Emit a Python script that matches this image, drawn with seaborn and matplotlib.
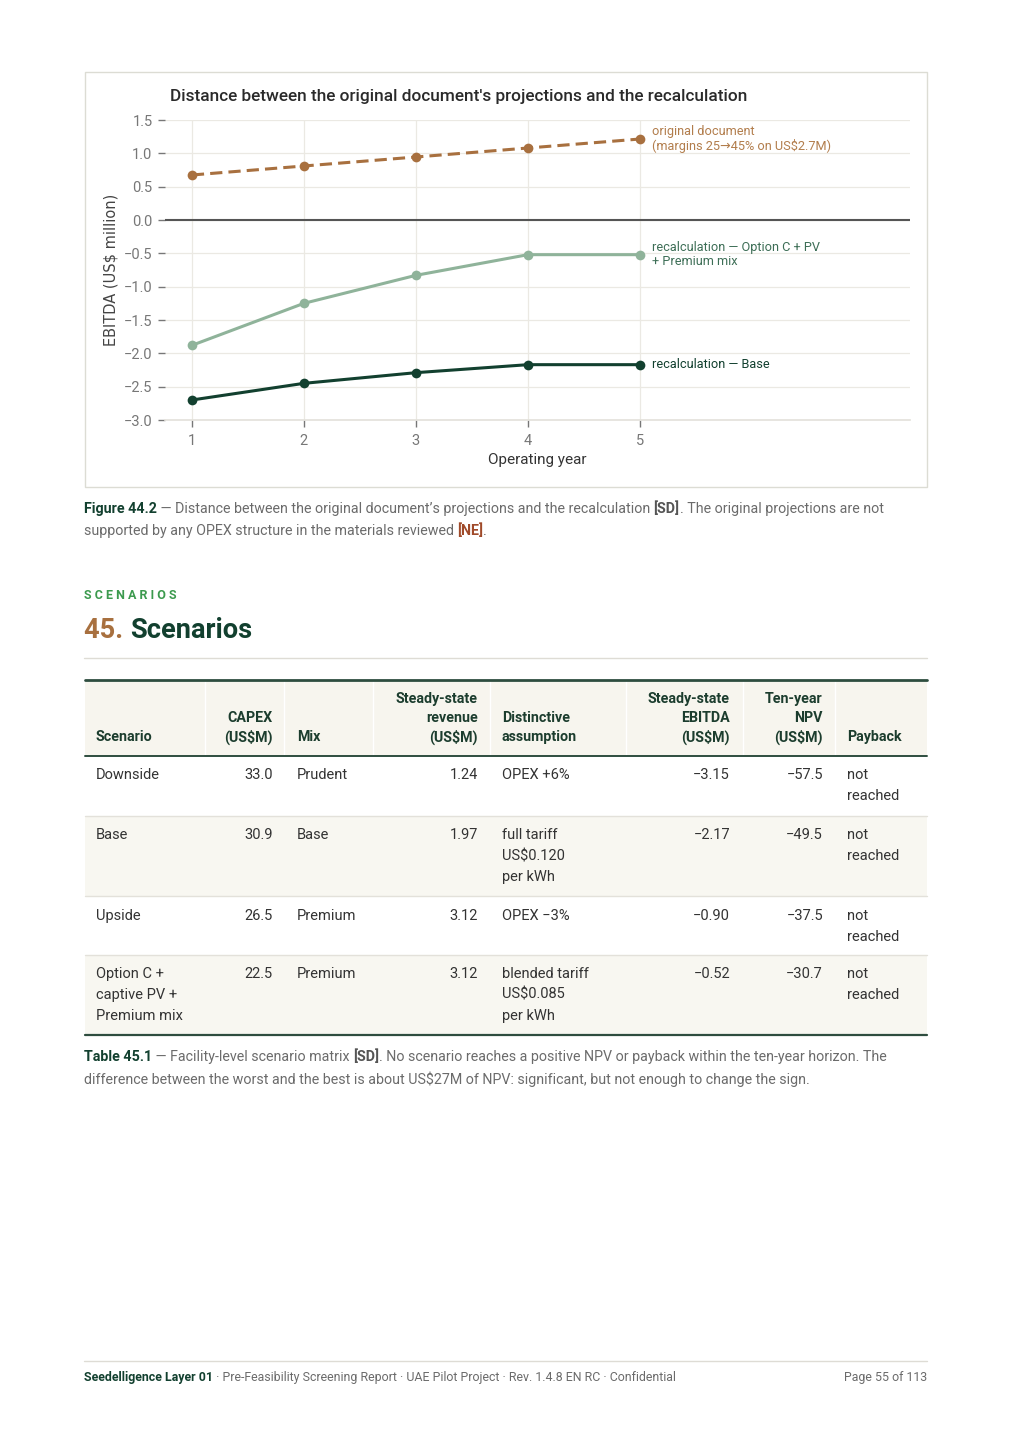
import numpy as np
import pandas as pd
import seaborn as sns
import matplotlib
matplotlib.use("Agg")
import matplotlib.pyplot as plt
from matplotlib.patches import Rectangle
from matplotlib.lines import Line2D

# ---------------- data ----------------
years = [1, 2, 3, 4, 5]
original = [0.675, 0.81, 0.945, 1.08, 1.215]
option_c = [-1.88, -1.25, -0.83, -0.52, -0.52]
base = [-2.70, -2.45, -2.29, -2.17, -2.17]
y_ticks = [1.5, 1.0, 0.5, 0.0, -0.5, -1.0, -1.5, -2.0, -2.5, -3.0]
series_labels = ["original document\n(margins 25\u219245% on US$2.7M)",
                 "recalculation \u2014 Option C + PV\n+ Premium mix",
                 "recalculation \u2014 Base"]

headers = [["Scenario"], ["CAPEX", "(US$M)"], ["Mix"],
           ["Steady-state", "revenue", "(US$M)"], ["Distinctive", "assumption"],
           ["Steady-state", "EBITDA", "(US$M)"], ["Ten-year", "NPV", "(US$M)"], ["Payback"]]
scenarios = [["Downside"], ["Base"], ["Upside"], ["Option C +", "captive PV +", "Premium mix"]]
capex = [33.0, 30.9, 26.5, 22.5]
mix = ["Prudent", "Base", "Premium", "Premium"]
revenue = [1.24, 1.97, 3.12, 3.12]
assumption = [["OPEX +6%"], ["full tariff", "US$0.120", "per kWh"], ["OPEX \u22123%"],
              ["blended tariff", "US$0.085", "per kWh"]]
ebitda = [-3.15, -2.17, -0.90, -0.52]
npv = [-57.5, -49.5, -37.5, -30.7]
payback = [["not", "reached"]] * 4

# ---------------- style ----------------
W, H = 1012, 1432
sns.set_theme(style="white")
plt.rcParams["font.family"] = ["Roboto", "DejaVu Sans"]

DARK = "#12402f"
BROWN = "#a8703f"
LIGHTG = "#8fb39a"
GRAY = "#6b6b6b"
TXT = "#333333"

fig = plt.figure(figsize=(W / 100, H / 100), dpi=100)
fig.patch.set_facecolor("white")
R = fig.canvas.get_renderer()


def fx(x):
    return x / W


def fy(y):
    return 1 - y / H


def T(x, y, s, **kw):
    kw.setdefault("va", "center")
    return fig.text(fx(x), fy(y), s, **kw)


def width_of(s, size, weight):
    a = fig.text(0, 0, "x" + s + "x", fontsize=size, fontweight=weight)
    b = fig.text(0, 0, "xx", fontsize=size, fontweight=weight)
    w = a.get_window_extent(renderer=R).width - b.get_window_extent(renderer=R).width
    a.remove()
    b.remove()
    return w


def runs(x, y, parts, size):
    cx = x
    for s, color, weight in parts:
        T(cx, y, s, color=color, fontweight=weight, fontsize=size, ha="left")
        cx += width_of(s, size, weight)


def hline(x0, x1, y, color, lw):
    fig.add_artist(Line2D([fx(x0), fx(x1)], [fy(y), fy(y)], color=color, lw=lw,
                          transform=fig.transFigure))


def rect(x0, y0, x1, y1, fc, ec="none", lw=0):
    fig.add_artist(Rectangle((fx(x0), fy(y1)), fx(x1) - fx(x0), fy(y0) - fy(y1),
                             facecolor=fc, edgecolor=ec, lw=lw, transform=fig.transFigure))


# ---------------- chart ----------------
rect(85, 72, 927, 487, "none", "#dcdcd4", 1.0)

ax = fig.add_axes([fx(165), fy(420), fx(910) - fx(165), fy(120) - fy(420)])
ax.set_facecolor("white")
df = pd.DataFrame({"year": years * 3,
                   "value": original + option_c + base,
                   "series": ["orig"] * 5 + ["optc"] * 5 + ["base"] * 5})
palette = {"orig": BROWN, "optc": LIGHTG, "base": DARK}
for key, dash in [("orig", (4, 2)), ("optc", ""), ("base", "")]:
    sub = df[df.series == key]
    sns.lineplot(data=sub, x="year", y="value", ax=ax, color=palette[key], lw=2.2,
                 marker="o", markersize=7, markeredgewidth=0, legend=False,
                 dashes=False, zorder=4, clip_on=False)
    if dash:
        ax.lines[-1].set_dashes(dash)

ax.axhline(0, color="#555555", lw=1.5, zorder=3)
ax.set_xlim(0.76, 7.41)
ax.set_ylim(-3.0, 1.5)
ax.set_xticks(years)
ax.set_yticks(y_ticks)
ax.set_yticklabels([f"{v:.1f}".replace("-", "\u2212") for v in y_ticks])
ax.grid(True, color="#ebe9e3", lw=0.9)
ax.set_axisbelow(True)
for s in ["top", "right", "left"]:
    ax.spines[s].set_visible(False)
ax.spines["bottom"].set_color("#e4e2dc")
ax.tick_params(axis="both", colors="#777777", labelsize=10.5, length=5, width=1,
               direction="out", left=True, bottom=True)
ax.tick_params(axis="y", pad=4)
ax.tick_params(axis="x", pad=5)
ax.set_xlabel("Operating year", fontsize=11, color="#333333", labelpad=4)
ax.set_ylabel("EBITDA (US$ million)", fontsize=10.5, color="#444444", labelpad=4,
              family="DejaVu Sans")

for vals, lab, col in zip([original, option_c, base], series_labels, ["#b27d4c", "#3d6e56", DARK]):
    ax.annotate(lab, xy=(years[-1], vals[-1]), xytext=(8.6, 0), textcoords="offset points",
                va="center", ha="left", fontsize=9.2, color=col, linespacing=1.1)

T(170, 97, "Distance between the original document's projections and the recalculation",
  fontsize=12.4, fontweight="medium", color="#2a2a2a")

# ---------------- figure caption ----------------
CAP = 10.25
runs(84, 509, [("Figure 44.2", DARK, "bold"),
               (" \u2014 Distance between the original document\u2019s projections and the recalculation ", GRAY, "normal"),
               ("[SD]", "#555555", "bold"),
               (". The original projections are not", GRAY, "normal")], CAP)
runs(84, 531, [("supported by any OPEX structure in the materials reviewed ", GRAY, "normal"),
               ("[NE]", "#a04a2a", "bold"),
               (".", GRAY, "normal")], CAP)

# ---------------- section heading ----------------
T(84, 596, "S C E N A R I O S", fontsize=9.0, fontweight="bold", color="#3c9a4e")
runs(84, 631, [("45. ", BROWN, "bold"), ("Scenarios", DARK, "bold")], 19.6)
hline(84, 927, 658, "#dedcd5", 1.0)

# ---------------- table ----------------
TL, TR = 85, 927
rect(TL, 680, TR, 756, "#f7f5ee")
rect(TL, 816, TR, 896, "#f8f7f1")
rect(TL, 955, TR, 1035, "#f8f7f1")
for xs in [205, 284, 373, 490, 626, 743, 835]:
    fig.add_artist(Line2D([fx(xs), fx(xs)], [fy(680), fy(756)], color="white", lw=1.0,
                          transform=fig.transFigure))
hline(TL, TR, 680, "#2e4d3f", 2.0)
hline(TL, TR, 756, "#2e4d3f", 1.4)
for yy in [816, 896, 955]:
    hline(TL, TR, yy, "#e3e1da", 1.0)
hline(TL, TR, 1035, "#2e4d3f", 1.6)

col_x = [96, 273, 297, 478, 502, 730, 823, 847]
col_ha = ["left", "right", "left", "right", "left", "right", "right", "left"]
for hdr, x, ha in zip(headers, col_x, col_ha):
    n = len(hdr)
    for i, line in enumerate(hdr):
        T(x, 737 - (n - 1 - i) * 19, line, ha=ha, fontsize=10.3, fontweight="bold", color="#1c3d2e")


def neg(v, fmt):
    return fmt.format(v).replace("-", "\u2212")


row_y = [775, 835, 916, 974]
for r in range(4):
    cells = [scenarios[r], [f"{capex[r]:.1f}"], [mix[r]], [f"{revenue[r]:.2f}"],
             assumption[r], [neg(ebitda[r], "{:.2f}")], [neg(npv[r], "{:.1f}")], payback[r]]
    for cell, x, ha in zip(cells, col_x, col_ha):
        for i, line in enumerate(cell):
            T(x, row_y[r] + i * 21, line, ha=ha, fontsize=10.5, color=TXT)

runs(84, 1057, [("Table 45.1", DARK, "bold"),
                (" \u2014 Facility-level scenario matrix ", GRAY, "normal"),
                ("[SD]", "#555555", "bold"),
                (". No scenario reaches a positive NPV or payback within the ten-year horizon. The", GRAY, "normal")], CAP)
runs(84, 1079, [("difference between the worst and the best is about US$27M of NPV: significant, but not enough to change the sign.", GRAY, "normal")], CAP)

# ---------------- footer ----------------
hline(84, 927, 1361, "#dedcd5", 1.0)
runs(84, 1378, [("Seedelligence Layer 01", DARK, "bold"),
                (" \u00b7 Pre-Feasibility Screening Report \u00b7 UAE Pilot Project \u00b7 Rev. 1.4.8 EN RC \u00b7 Confidential", GRAY, "normal")], 8.9)
T(927, 1378, "Page 55 of 113", ha="right", fontsize=8.9, color=GRAY)

fig.savefig("out.png", dpi=100, facecolor="white")
